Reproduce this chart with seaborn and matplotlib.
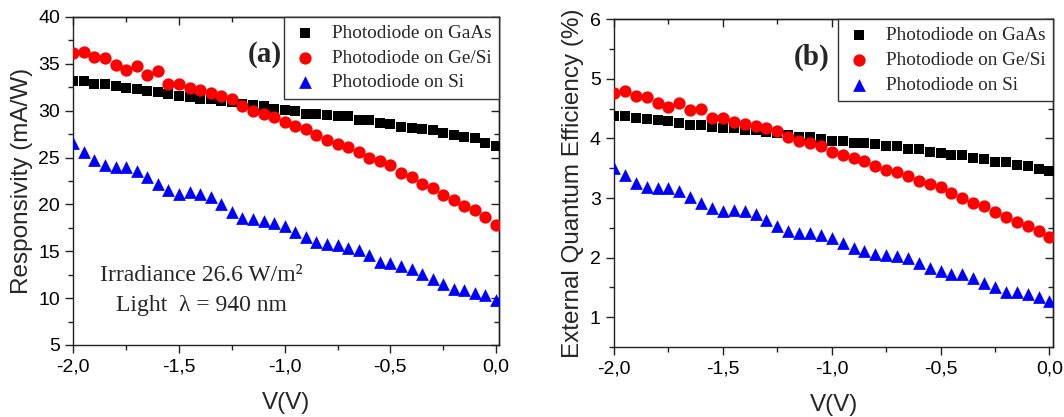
import numpy as np
import pandas as pd
import matplotlib
matplotlib.use("Agg")
import matplotlib.pyplot as plt
from matplotlib.ticker import MultipleLocator, FuncFormatter
import seaborn as sns

# bias voltage, 0.05 V steps
voltage = np.round(np.arange(-2.0, 0.001, 0.05), 2)

devices = ["Photodiode on GaAs", "Photodiode on Ge/Si", "Photodiode on Si"]

# responsivity (mA/W)
resp_gaas = [33.2, 33.2, 32.9, 32.8, 32.6, 32.4, 32.3, 32.1, 32.0, 31.8,
             31.6, 31.5, 31.3, 31.2, 31.0, 30.9, 30.7, 30.6, 30.5, 30.2,
             30.1, 30.0, 29.7, 29.6, 29.5, 29.4, 29.4, 29.0, 29.0, 28.7,
             28.6, 28.3, 28.2, 28.0, 27.9, 27.6, 27.4, 27.2, 27.1, 26.5, 26.2]
resp_gesi = [36.2, 36.3, 35.7, 35.6, 34.9, 34.3, 34.8, 33.8, 34.2, 32.8,
             32.9, 32.4, 32.2, 31.9, 31.6, 31.2, 30.5, 30.0, 29.7, 29.3,
             28.8, 28.4, 28.0, 27.4, 26.9, 26.4, 26.1, 25.6, 24.9, 24.6,
             24.2, 23.4, 22.9, 22.2, 21.8, 21.0, 20.5, 19.8, 19.4, 18.7, 17.8]
resp_si = [26.5, 25.6, 24.7, 24.2, 24.0, 24.0, 23.6, 22.9, 22.2, 21.5,
           21.1, 21.3, 21.1, 20.8, 20.0, 19.2, 18.6, 18.4, 18.2, 18.0,
           17.7, 17.1, 16.5, 16.0, 15.8, 15.7, 15.4, 15.1, 14.6, 13.9,
           13.7, 13.4, 13.1, 12.6, 12.0, 11.5, 11.0, 10.9, 10.6, 10.3, 9.8]

# external quantum efficiency (%)
eqe_gaas = [4.37, 4.37, 4.35, 4.33, 4.31, 4.29, 4.26, 4.23, 4.22, 4.20,
            4.18, 4.18, 4.15, 4.14, 4.11, 4.10, 4.05, 4.03, 4.02, 3.99,
            3.96, 3.95, 3.93, 3.92, 3.90, 3.88, 3.87, 3.82, 3.83, 3.78,
            3.76, 3.73, 3.72, 3.68, 3.66, 3.61, 3.60, 3.56, 3.54, 3.49, 3.45]
eqe_gesi = [4.76, 4.80, 4.71, 4.70, 4.59, 4.53, 4.59, 4.47, 4.50, 4.35,
            4.35, 4.27, 4.25, 4.21, 4.17, 4.12, 4.02, 3.95, 3.92, 3.88,
            3.77, 3.73, 3.68, 3.63, 3.54, 3.47, 3.44, 3.37, 3.29, 3.24,
            3.18, 3.08, 3.00, 2.91, 2.87, 2.77, 2.68, 2.60, 2.53, 2.45, 2.35]
eqe_si = [3.50, 3.39, 3.26, 3.19, 3.17, 3.17, 3.12, 3.01, 2.92, 2.83,
          2.78, 2.80, 2.78, 2.73, 2.63, 2.53, 2.45, 2.42, 2.41, 2.38,
          2.33, 2.25, 2.16, 2.11, 2.06, 2.05, 2.03, 1.99, 1.91, 1.83,
          1.78, 1.73, 1.72, 1.65, 1.58, 1.50, 1.43, 1.43, 1.39, 1.34, 1.27]

colors = {devices[0]: "black", devices[1]: "#ff0000", devices[2]: "#0000ff"}
markers = {devices[0]: "s", devices[1]: "o", devices[2]: "^"}
sizes = {devices[0]: 62, devices[1]: 78, devices[2]: 84}


def long_frame(series):
    rows = []
    for name, vals in zip(devices, series):
        rows.append(pd.DataFrame({"V": voltage, "y": vals, "device": name}))
    return pd.concat(rows, ignore_index=True)


sns.set_theme(style="ticks")
plt.rcParams["font.family"] = ["Liberation Sans", "DejaVu Sans"]
plt.rcParams["axes.linewidth"] = 1.0

comma = FuncFormatter(lambda v, p: f"{v:.1f}".replace(".", ","))
serif = ["Liberation Serif", "DejaVu Serif"]

fig = plt.figure(figsize=(10.64, 4.17), dpi=100)
ax_a = fig.add_axes([0.0689, 0.1727, 0.4001, 0.7866])
ax_b = fig.add_axes([0.5771, 0.1679, 0.4129, 0.7858])

panels = [
    (ax_a, [resp_gaas, resp_gesi, resp_si], (5, 40), 5, 2.5, "Responsivity (mA/W)", "(a)", 0.014),
    (ax_b, [eqe_gaas, eqe_gesi, eqe_si], (0.5, 6), 1, 0.5, "External Quantum Efficiency (%)", "(b)", 0.018),
]

for ax, series, ylim, ymaj, ymin, ylabel, tag, xpad in panels:
    df = long_frame(series)
    for name in devices:
        sub = df[df["device"] == name]
        sns.scatterplot(data=sub, x="V", y="y", ax=ax, color=colors[name],
                        marker=markers[name], s=sizes[name], linewidth=0,
                        label=name, zorder=3)
    ax.set_xlim(-2.0, xpad)
    ax.set_ylim(*ylim)
    ax.xaxis.set_major_locator(MultipleLocator(0.5))
    ax.xaxis.set_minor_locator(MultipleLocator(0.25))
    ax.yaxis.set_major_locator(MultipleLocator(ymaj))
    ax.yaxis.set_minor_locator(MultipleLocator(ymin))
    ax.xaxis.set_major_formatter(comma)
    ax.tick_params(which="both", direction="out", labelsize=14, width=1, colors="#222222")
    ax.tick_params(which="major", length=6)
    ax.tick_params(which="minor", length=3.5)
    ax.tick_params(labelcolor="black")
    for side in ax.spines.values():
        side.set_color("#222222")

    top = ax.secondary_xaxis("top")
    top.xaxis.set_major_locator(MultipleLocator(0.5))
    top.xaxis.set_minor_locator(MultipleLocator(0.25))
    top.tick_params(which="both", direction="in", labeltop=False, width=1, colors="#222222")
    top.tick_params(which="major", length=6)
    top.tick_params(which="minor", length=3.5)
    right = ax.secondary_yaxis("right")
    right.yaxis.set_major_locator(MultipleLocator(ymaj))
    right.yaxis.set_minor_locator(MultipleLocator(ymin))
    right.tick_params(which="both", direction="in", labelright=False, width=1, colors="#222222")
    right.tick_params(which="major", length=6)
    right.tick_params(which="minor", length=3.5)

    ax.set_xlabel("V(V)", fontsize=17.5, labelpad=12)
    ax.set_ylabel(ylabel, fontsize=17.5, labelpad=4)

    leg = ax.legend(loc="upper right", borderaxespad=0, fancybox=False, framealpha=1,
                    edgecolor="#333333", prop={"family": serif, "size": 13.8},
                    labelspacing=0.38, handletextpad=0.7, borderpad=0.4,
                    handlelength=1.4)
    leg.get_frame().set_linewidth(1.0)

    ax.text(0.45, 0.885, tag, transform=ax.transAxes, ha="center", va="center",
            fontsize=21, fontweight="bold", family=serif)

ax_a.text(0.30, 0.165, "Irradiance 26.6 W/m²\nLight  λ = 940 nm", transform=ax_a.transAxes,
          ha="center", va="center", fontsize=17, family=serif, linespacing=1.55)

fig.savefig("out.png", dpi=100)
